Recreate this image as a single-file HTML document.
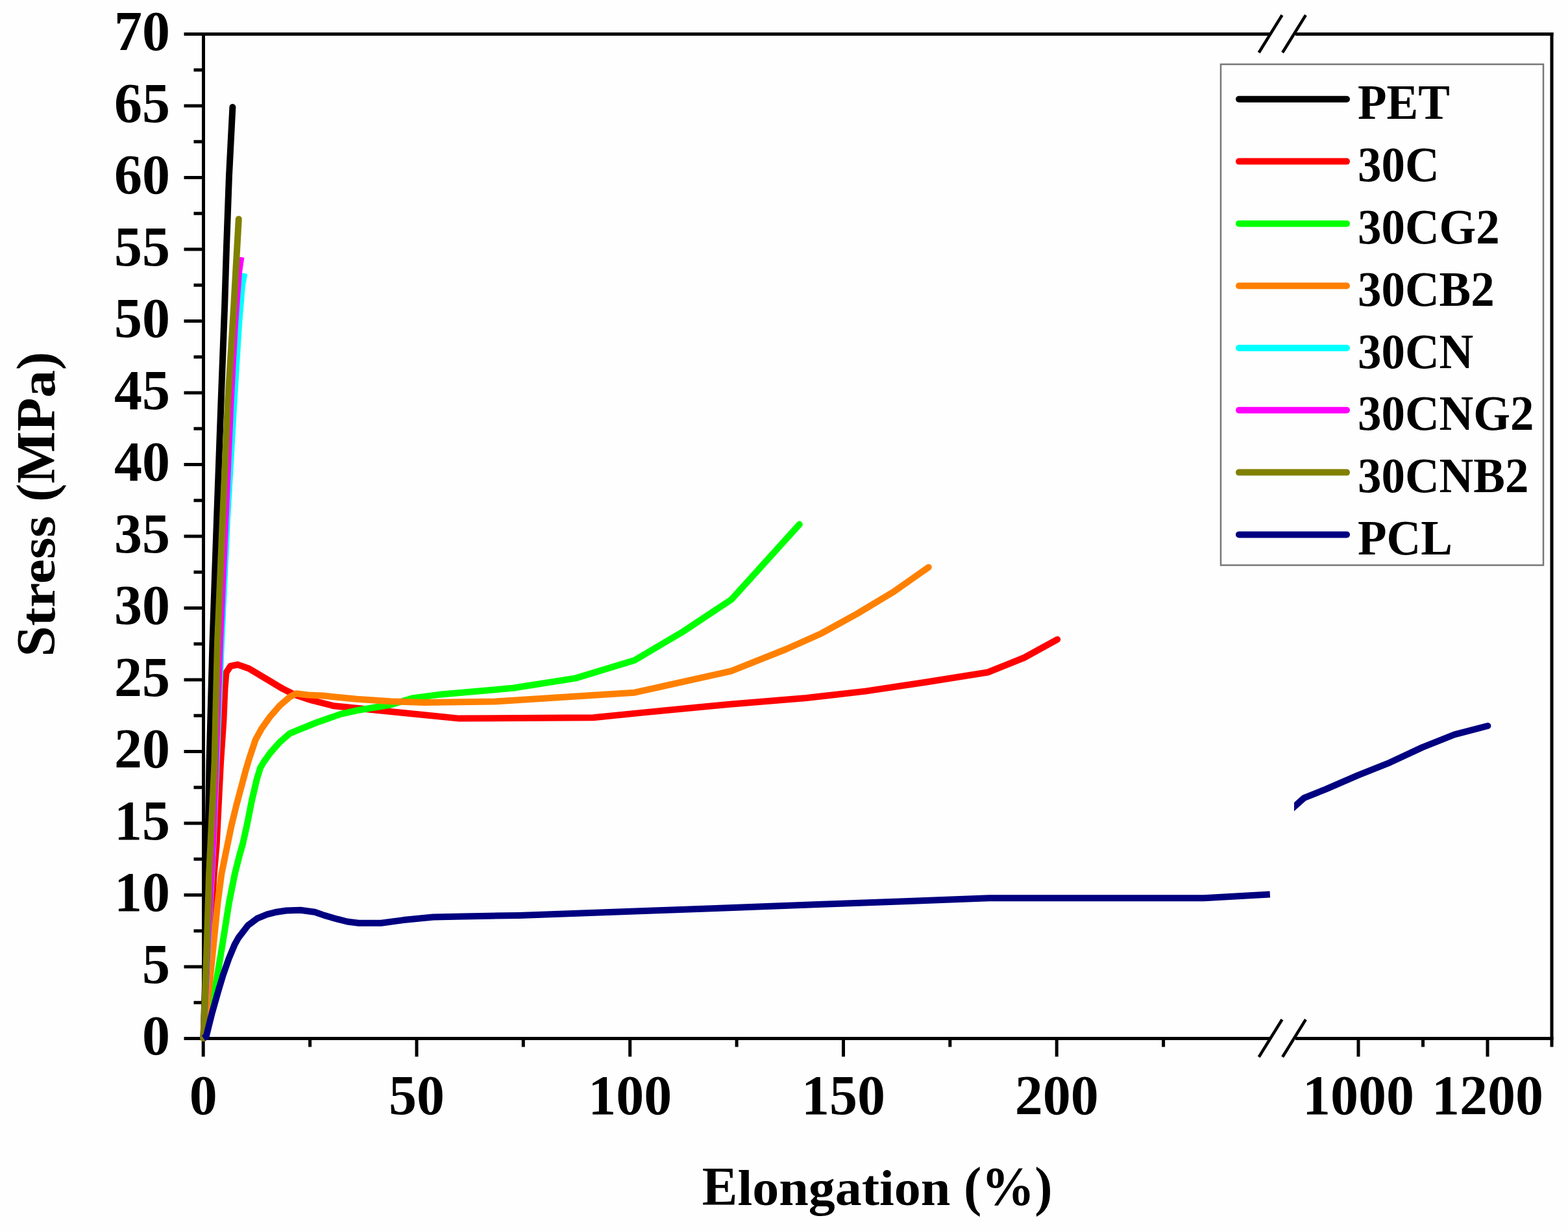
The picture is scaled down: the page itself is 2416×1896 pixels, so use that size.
<!DOCTYPE html>
<html><head><meta charset="utf-8"><title>Stress vs Elongation</title>
<style>
html,body{margin:0;padding:0;background:#fefefe;}
body{width:2416px;height:1896px;overflow:hidden;}
svg{display:block;filter:blur(0.55px);}
text{font-family:"Liberation Serif","Times New Roman",serif;font-weight:bold;fill:#000;}
</style></head><body>
<svg width="2416" height="1896" viewBox="0 0 2416 1896">
<rect width="2416" height="1896" fill="#fefefe"/>
<g stroke="#000" stroke-width="5" fill="none" stroke-linecap="butt">
<line x1="313.5" y1="50.0" x2="313.5" y2="1602.0"/>
<line x1="2391" y1="50.0" x2="2391" y2="1612.5"/>
<line x1="313.5" y1="52.5" x2="1956" y2="52.5"/>
<line x1="1996" y1="52.5" x2="2393.5" y2="52.5"/>
<line x1="313.5" y1="1599.5" x2="1956" y2="1599.5"/>
<line x1="1996" y1="1599.5" x2="2393.5" y2="1599.5"/>
<line x1="283.5" y1="1599.5" x2="313.5" y2="1599.5"/>
<line x1="298.5" y1="1544.2" x2="313.5" y2="1544.2"/>
<line x1="283.5" y1="1489.0" x2="313.5" y2="1489.0"/>
<line x1="298.5" y1="1433.8" x2="313.5" y2="1433.8"/>
<line x1="283.5" y1="1378.5" x2="313.5" y2="1378.5"/>
<line x1="298.5" y1="1323.2" x2="313.5" y2="1323.2"/>
<line x1="283.5" y1="1268.0" x2="313.5" y2="1268.0"/>
<line x1="298.5" y1="1212.8" x2="313.5" y2="1212.8"/>
<line x1="283.5" y1="1157.5" x2="313.5" y2="1157.5"/>
<line x1="298.5" y1="1102.2" x2="313.5" y2="1102.2"/>
<line x1="283.5" y1="1047.0" x2="313.5" y2="1047.0"/>
<line x1="298.5" y1="991.8" x2="313.5" y2="991.8"/>
<line x1="283.5" y1="936.5" x2="313.5" y2="936.5"/>
<line x1="298.5" y1="881.2" x2="313.5" y2="881.2"/>
<line x1="283.5" y1="826.0" x2="313.5" y2="826.0"/>
<line x1="298.5" y1="770.8" x2="313.5" y2="770.8"/>
<line x1="283.5" y1="715.5" x2="313.5" y2="715.5"/>
<line x1="298.5" y1="660.2" x2="313.5" y2="660.2"/>
<line x1="283.5" y1="605.0" x2="313.5" y2="605.0"/>
<line x1="298.5" y1="549.8" x2="313.5" y2="549.8"/>
<line x1="283.5" y1="494.5" x2="313.5" y2="494.5"/>
<line x1="298.5" y1="439.2" x2="313.5" y2="439.2"/>
<line x1="283.5" y1="384.0" x2="313.5" y2="384.0"/>
<line x1="298.5" y1="328.8" x2="313.5" y2="328.8"/>
<line x1="283.5" y1="273.5" x2="313.5" y2="273.5"/>
<line x1="298.5" y1="218.2" x2="313.5" y2="218.2"/>
<line x1="283.5" y1="163.0" x2="313.5" y2="163.0"/>
<line x1="298.5" y1="107.8" x2="313.5" y2="107.8"/>
<line x1="283.5" y1="52.5" x2="313.5" y2="52.5"/>
<line x1="313.2" y1="1599.5" x2="313.2" y2="1627.5"/>
<line x1="477.6" y1="1599.5" x2="477.6" y2="1612.5"/>
<line x1="642.0" y1="1599.5" x2="642.0" y2="1627.5"/>
<line x1="806.3" y1="1599.5" x2="806.3" y2="1612.5"/>
<line x1="970.7" y1="1599.5" x2="970.7" y2="1627.5"/>
<line x1="1135.1" y1="1599.5" x2="1135.1" y2="1612.5"/>
<line x1="1299.5" y1="1599.5" x2="1299.5" y2="1627.5"/>
<line x1="1463.8" y1="1599.5" x2="1463.8" y2="1612.5"/>
<line x1="1628.2" y1="1599.5" x2="1628.2" y2="1627.5"/>
<line x1="1792.6" y1="1599.5" x2="1792.6" y2="1612.5"/>
<line x1="2093.0" y1="1599.5" x2="2093.0" y2="1627.5"/>
<line x1="2192.5" y1="1599.5" x2="2192.5" y2="1612.5"/>
<line x1="2292.0" y1="1599.5" x2="2292.0" y2="1627.5"/>
</g>
<g stroke="#000" stroke-width="4.5" stroke-linecap="butt">
<line x1="1939.7" y1="81.0" x2="1975.5" y2="23.2"/>
<line x1="1976.1" y1="81.0" x2="2011.9" y2="23.2"/>
<line x1="1939.7" y1="1628.0" x2="1975.5" y2="1570.2"/>
<line x1="1976.1" y1="1628.0" x2="2011.9" y2="1570.2"/>
</g>
<g fill="none" stroke-width="10" stroke-linejoin="round">
<path d="M313.5,1599.0 L318.0,1450.0 L322.5,1175.0 L327.5,990.0 L334.0,800.0 L340.5,620.0 L346.2,470.0 L349.0,380.0 L353.0,270.0 L358.4,165.0" stroke="#000000" stroke-linecap="round"/>
<path d="M313.5,1599.0 L321.0,1480.0 L329.5,1350.0 L333.7,1300.0 L340.0,1175.0 L344.4,1110.0 L346.5,1060.0 L348.5,1036.0 L355.0,1026.0 L366.2,1023.6 L383.6,1029.7 L409.8,1045.4 L436.0,1061.1 L453.5,1069.8 L479.6,1078.5 L514.6,1087.3 L549.5,1090.8 L601.8,1096.0 L654.2,1101.2 L707.6,1106.6 L914.3,1105.2 L1000.0,1096.6 L1121.3,1085.0 L1242.6,1075.0 L1333.5,1064.6 L1424.5,1051.0 L1522.0,1035.5 L1578.0,1013.0 L1629.2,984.9" stroke="#ff0000" stroke-linecap="round"/>
<path d="M313.5,1599.0 L318.5,1580.0 L325.3,1552.6 L333.8,1508.8 L343.5,1450.0 L353.0,1390.0 L361.8,1346.0 L369.1,1317.0 L374.0,1300.0 L380.6,1270.4 L388.0,1233.0 L395.5,1201.0 L401.2,1182.3 L406.8,1173.0 L416.2,1159.9 L431.1,1143.0 L446.1,1129.9 L459.3,1124.3 L487.4,1113.0 L524.8,1099.9 L549.5,1094.3 L601.8,1085.5 L636.7,1075.1 L680.0,1069.4 L790.3,1059.8 L886.7,1044.6 L977.7,1017.0 L1052.1,973.0 L1127.0,923.3 L1231.8,807.6" stroke="#00ff00" stroke-linecap="round"/>
<path d="M313.5,1599.0 L317.5,1560.0 L323.5,1508.8 L329.5,1450.0 L335.5,1390.0 L341.3,1346.0 L347.2,1317.0 L356.4,1272.5 L363.7,1242.3 L371.2,1214.2 L378.7,1186.1 L384.3,1167.4 L393.7,1139.3 L403.0,1122.4 L416.2,1103.7 L431.1,1086.8 L446.1,1073.7 L456.3,1068.2 L475.0,1070.5 L497.1,1071.6 L549.5,1076.8 L601.8,1080.3 L654.2,1082.0 L762.7,1080.4 L977.7,1066.7 L1126.5,1033.6 L1211.0,1000.0 L1265.4,975.7 L1320.5,945.4 L1375.6,912.3 L1403.2,893.0 L1430.8,873.7" stroke="#ff8000" stroke-linecap="round"/>
<path d="M313.5,1599.0 L320.5,1450.0 L328.5,1300.0 L333.5,1175.0 L341.0,990.0 L350.0,800.0 L360.5,620.0 L368.0,500.0 L373.0,440.0 L376.4,421.0" stroke="#00ffff" stroke-linecap="butt"/>
<path d="M313.5,1599.0 L320.0,1450.0 L328.0,1300.0 L332.5,1175.0 L339.0,990.0 L347.5,800.0 L355.5,620.0 L362.0,500.0 L368.0,420.0 L371.4,396.0" stroke="#ff00ff" stroke-linecap="butt"/>
<path d="M313.5,1599.0 L318.0,1480.0 L322.0,1350.0 L330.5,1175.0 L335.0,990.0 L343.0,800.0 L351.0,620.0 L360.3,470.0 L367.8,337.4" stroke="#808000" stroke-linecap="round"/>
<path d="M313.5,1599.0 L317.7,1596.4 L326.7,1560.3 L335.8,1528.1 L343.5,1502.4 L352.5,1476.6 L361.5,1455.0 L367.4,1444.4 L382.1,1425.3 L396.8,1414.3 L411.5,1408.4 L426.2,1404.7 L440.9,1402.5 L462.9,1401.8 L485.0,1404.7 L499.7,1409.9 L520.0,1415.7 L535.0,1419.5 L552.6,1421.7 L587.1,1421.7 L621.5,1417.1 L667.5,1412.5 L713.4,1411.4 L800.0,1409.9 L1103.2,1398.9 L1400.0,1387.9 L1524.0,1383.2 L1854.8,1383.2 L1956.8,1377.4" stroke="#000080" stroke-linecap="butt"/>
<clipPath id="cr"><rect x="1994" y="1000" width="400" height="400"/></clipPath>
<path d="M1984.0,1251.8 L1993.9,1242.9 L2009.6,1228.8 L2042.7,1215.6 L2092.3,1194.1 L2141.9,1174.3 L2191.5,1151.1 L2241.1,1131.3 L2292.4,1118.0" stroke="#000080" stroke-linecap="round" clip-path="url(#cr)"/>
</g>
<text x="262" y="1624.0" font-size="86" text-anchor="end">0</text>
<text x="262" y="1513.5" font-size="86" text-anchor="end">5</text>
<text x="262" y="1403.0" font-size="86" text-anchor="end">10</text>
<text x="262" y="1292.5" font-size="86" text-anchor="end">15</text>
<text x="262" y="1182.0" font-size="86" text-anchor="end">20</text>
<text x="262" y="1071.5" font-size="86" text-anchor="end">25</text>
<text x="262" y="961.0" font-size="86" text-anchor="end">30</text>
<text x="262" y="850.5" font-size="86" text-anchor="end">35</text>
<text x="262" y="740.0" font-size="86" text-anchor="end">40</text>
<text x="262" y="629.5" font-size="86" text-anchor="end">45</text>
<text x="262" y="519.0" font-size="86" text-anchor="end">50</text>
<text x="262" y="408.5" font-size="86" text-anchor="end">55</text>
<text x="262" y="298.0" font-size="86" text-anchor="end">60</text>
<text x="262" y="187.5" font-size="86" text-anchor="end">65</text>
<text x="262" y="77.0" font-size="86" text-anchor="end">70</text>
<text x="313.2" y="1716" font-size="86" text-anchor="middle">0</text>
<text x="642.0" y="1716" font-size="86" text-anchor="middle">50</text>
<text x="970.7" y="1716" font-size="86" text-anchor="middle">100</text>
<text x="1299.5" y="1716" font-size="86" text-anchor="middle">150</text>
<text x="1628.2" y="1716" font-size="86" text-anchor="middle">200</text>
<text x="2093.0" y="1716" font-size="86" text-anchor="middle">1000</text>
<text x="2292.0" y="1716" font-size="86" text-anchor="middle">1200</text>
<text x="1081.7" y="1856" font-size="84" transform="translate(1081.7,0) scale(0.976,1) translate(-1081.7,0)">E<tspan font-size="77.28" textLength="336.08" lengthAdjust="spacingAndGlyphs">longation</tspan> (%)</text>
<text transform="translate(83.5,1011.5) rotate(-90)" font-size="85">S<tspan font-size="76.50" textLength="169.92" lengthAdjust="spacingAndGlyphs">tress</tspan> (MP<tspan font-size="76.50" textLength="42.50" lengthAdjust="spacingAndGlyphs">a</tspan>)</text>
<rect x="1881" y="99" width="497" height="771.5" fill="none" stroke="#777" stroke-width="2.5"/>
<line x1="1909" y1="152.8" x2="2075" y2="152.8" stroke="#000000" stroke-width="10" stroke-linecap="round"/>
<text x="2092" y="183.4" font-size="76" transform="translate(2092,0) scale(0.96,1) translate(-2092,0)">PET</text>
<line x1="1909" y1="248.6" x2="2075" y2="248.6" stroke="#ff0000" stroke-width="10" stroke-linecap="round"/>
<text x="2092" y="279.2" font-size="76" transform="translate(2092,0) scale(0.96,1) translate(-2092,0)">30C</text>
<line x1="1909" y1="344.4" x2="2075" y2="344.4" stroke="#00ff00" stroke-width="10" stroke-linecap="round"/>
<text x="2092" y="375.0" font-size="76" transform="translate(2092,0) scale(0.96,1) translate(-2092,0)">30CG2</text>
<line x1="1909" y1="440.2" x2="2075" y2="440.2" stroke="#ff8000" stroke-width="10" stroke-linecap="round"/>
<text x="2092" y="470.8" font-size="76" transform="translate(2092,0) scale(0.96,1) translate(-2092,0)">30CB2</text>
<line x1="1909" y1="536.0" x2="2075" y2="536.0" stroke="#00ffff" stroke-width="10" stroke-linecap="round"/>
<text x="2092" y="566.6" font-size="76" transform="translate(2092,0) scale(0.96,1) translate(-2092,0)">30CN</text>
<line x1="1909" y1="631.8" x2="2075" y2="631.8" stroke="#ff00ff" stroke-width="10" stroke-linecap="round"/>
<text x="2092" y="662.4" font-size="76" transform="translate(2092,0) scale(0.96,1) translate(-2092,0)">30CNG2</text>
<line x1="1909" y1="727.6" x2="2075" y2="727.6" stroke="#808000" stroke-width="10" stroke-linecap="round"/>
<text x="2092" y="758.2" font-size="76" transform="translate(2092,0) scale(0.96,1) translate(-2092,0)">30CNB2</text>
<line x1="1909" y1="823.4" x2="2075" y2="823.4" stroke="#000080" stroke-width="10" stroke-linecap="round"/>
<text x="2092" y="854.0" font-size="76" transform="translate(2092,0) scale(0.96,1) translate(-2092,0)">PCL</text>
</svg>
</body></html>
